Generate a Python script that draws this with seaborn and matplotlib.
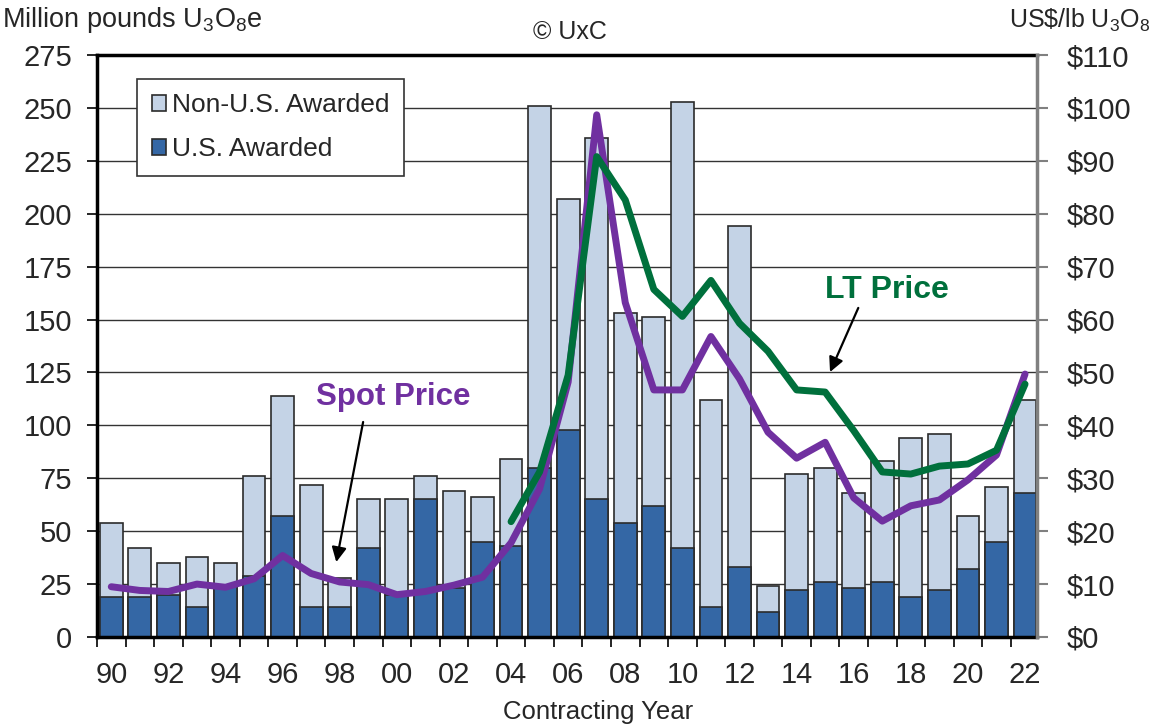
import matplotlib
matplotlib.use("Agg")
import matplotlib.pyplot as plt
from matplotlib.patches import Patch
import seaborn as sns

# contracting year (x axis)
years = list(range(1990, 2023))

# million lb U3O8e awarded: total (top of stacked bar) and U.S. part
total_awarded = [54, 42, 35, 38, 35, 76, 114, 72, 28, 65, 65, 76, 69, 66, 84,
                 251, 207, 236, 153, 151, 253, 112, 194, 24, 77, 80, 68, 83,
                 94, 96, 57, 71, 112]
us_awarded = [19, 19, 20, 14, 24, 29, 57, 14, 14, 42, 20, 65, 23, 45, 43,
              80, 98, 65, 54, 62, 42, 14, 33, 12, 22, 26, 23, 26, 19, 22,
              32, 45, 68]

# US$/lb U3O8 (right axis)
spot_price = [9.5, 8.8, 8.6, 10.0, 9.4, 11.0, 15.4, 12.0, 10.4, 9.9, 8.0,
              8.6, 9.8, 11.3, 17.8, 28.0, 48.2, 98.7, 63.2, 46.7, 46.7,
              56.8, 48.8, 38.7, 33.8, 36.8, 26.3, 21.9, 24.8, 25.9, 29.7,
              34.4, 49.7]
lt_years = list(range(2004, 2023))
lt_price = [21.8, 31.2, 49.5, 90.8, 82.6, 65.7, 60.6, 67.4, 59.3, 54.0,
            46.7, 46.3, 39.0, 31.2, 30.8, 32.3, 32.7, 35.3, 47.8]

left_ticks = list(range(0, 276, 25))
right_ticks = list(range(0, 111, 10))
year_labels = years[::2]

LIGHT = "#C4D3E6"
DARK = "#3467A5"
EDGE = "#2b2b2b"
PURPLE = "#7030A0"
GREEN = "#00703C"

sns.set_theme(style="white")
plt.rcParams["font.family"] = ["Liberation Sans", "DejaVu Sans"]

fig = plt.figure(figsize=(11.56, 7.26), dpi=100)
ax = fig.add_axes([0.0839, 0.1226, 0.8132, 0.8016])

sns.barplot(x=years, y=total_awarded, native_scale=True, color=LIGHT,
            saturation=1, width=0.8, edgecolor=EDGE, linewidth=1.2,
            errorbar=None, ax=ax)
sns.barplot(x=years, y=us_awarded, native_scale=True, color=DARK,
            saturation=1, width=0.8, edgecolor=EDGE, linewidth=1.2,
            errorbar=None, ax=ax)

ax.set_ylim(0, 275)
ax.set_yticks(left_ticks)
ax.yaxis.grid(True, color="#333333", linewidth=1.0)
ax.xaxis.grid(False)
ax.set_axisbelow(True)

ax.set_xticks(year_labels)
ax.set_xticklabels([f"{y % 100:02d}" for y in year_labels])
ax.set_xticks([y - 0.5 for y in years] + [years[-1] + 0.5], minor=True)
ax.tick_params(axis="x", which="major", length=0, pad=17, labelsize=21)
ax.tick_params(axis="x", which="minor", length=7, width=1.2,
               color="black", direction="out", bottom=True)
ax.tick_params(axis="y", which="major", length=7, width=1.2, color="black",
               pad=11, labelsize=21, left=True)

for side in ["left", "top", "bottom"]:
    ax.spines[side].set_visible(True)
    ax.spines[side].set_color("black")
    ax.spines[side].set_linewidth(2.5)
ax.spines["right"].set_visible(False)

legend_handles = [
    Patch(facecolor=LIGHT, edgecolor=EDGE, linewidth=1.2, label="Non-U.S. Awarded"),
    Patch(facecolor=DARK, edgecolor=EDGE, linewidth=1.2, label="U.S. Awarded"),
]
leg = ax.legend(handles=legend_handles, loc="upper left",
                bbox_to_anchor=(0.0426, 0.959), borderaxespad=0, fontsize=19,
                frameon=True, fancybox=False, framealpha=1, edgecolor="#333333",
                handlelength=0.53, handleheight=0.53, handletextpad=0.25,
                labelspacing=0.75, borderpad=0.55)
leg.get_frame().set_linewidth(1.2)

# price lines on the right axis
ax2 = ax.twinx()
sns.lineplot(x=years, y=spot_price, color=PURPLE, linewidth=5, ax=ax2)
sns.lineplot(x=lt_years, y=lt_price, color=GREEN, linewidth=5, ax=ax2)
ax2.set_ylim(0, 110)
ax2.set_yticks(right_ticks)
ax2.set_yticklabels([f"${v}" for v in right_ticks])
ax2.set_ylabel("")
ax2.grid(False)
ax2.tick_params(axis="y", length=8, width=1.5, color="#808080", pad=13,
                labelsize=21, right=True)
for side in ["left", "top", "bottom"]:
    ax2.spines[side].set_visible(False)
ax2.spines["right"].set_visible(True)
ax2.spines["right"].set_color("#808080")
ax2.spines["right"].set_linewidth(2.5)

ax.set_xlim(1989.5, 2022.42)
ax.set_xlabel("Contracting Year", fontsize=18.5)
ax.xaxis.set_label_coords((598 - 97) / 940, (637 - 700) / 582)
ax.set_ylabel("")

# callouts
ax.text(1999.87, 113.4, "Spot Price", color=PURPLE, fontsize=22.5,
        fontweight="bold", ha="center", va="center")
ax.annotate("", xy=(1997.88, 35.4), xytext=(1998.82, 101.6),
            arrowprops=dict(arrowstyle="-|>", color="black", lw=1.6,
                            mutation_scale=22, shrinkA=0, shrinkB=0))
ax.text(2017.17, 164, "LT Price", color=GREEN, fontsize=23,
        fontweight="bold", ha="center", va="center")
ax.annotate("", xy=(2015.17, 125.2), xytext=(2016.16, 155.5),
            arrowprops=dict(arrowstyle="-|>", color="black", lw=1.6,
                            mutation_scale=22, shrinkA=0, shrinkB=0))

# header texts
fig.text(0.002, 1 - 20 / 726, r"Million pounds U$\mathregular{_3}$O$\mathregular{_8}$e",
         fontsize=19.5, ha="left", va="center")
fig.text(570 / 1156, 1 - 32 / 726, "© UxC", fontsize=18, ha="center", va="center")
fig.text(1150 / 1156, 1 - 20 / 726, r"US\$/lb U$\mathregular{_3}$O$\mathregular{_8}$",
         fontsize=18, ha="right", va="center")

fig.savefig("out.png", dpi=100, facecolor="white")
